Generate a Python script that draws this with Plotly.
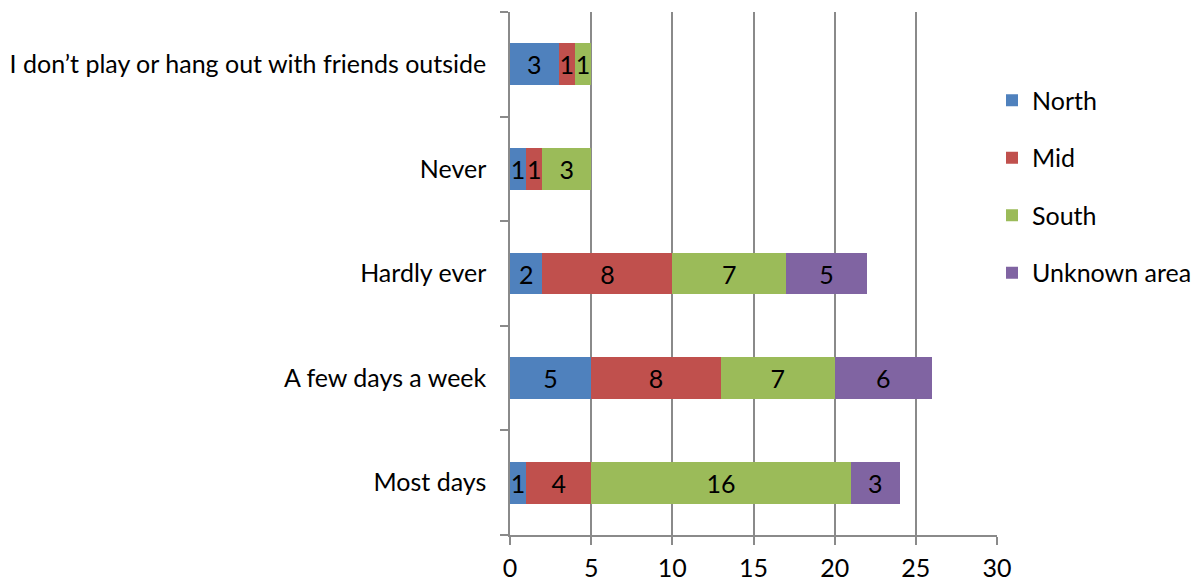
import plotly.graph_objects as go

categories = [
    "Most days",
    "A few days a week",
    "Hardly ever",
    "Never",
    "I don\u2019t play or hang out with friends outside",
]
north = [1, 5, 2, 1, 3]
mid = [4, 8, 8, 1, 1]
south = [16, 7, 7, 3, 1]
unknown = [3, 6, 5, 0, 0]

series = [
    ("North", north, "#4F81BD"),
    ("Mid", mid, "#C0504D"),
    ("South", south, "#9BBB59"),
    ("Unknown area", unknown, "#8064A2"),
]

FONT = "Lato"
FS = 25
GRID = "#8A8A8A"

W, H = 1193, 581
LEFT, RIGHT_EDGE = 510, 997
avail = W - LEFT
x_domain_end = (RIGHT_EDGE - LEFT) / avail

fig = go.Figure()
for name, vals, color in series:
    fig.add_trace(go.Bar(
        y=categories,
        x=vals,
        name=name,
        orientation="h",
        marker=dict(color=color, line=dict(width=0)),
        text=[str(v) if v else "" for v in vals],
        texttemplate="%{text}",
        textposition="inside",
        insidetextanchor="middle",
        textangle=0,
        constraintext="none",
        textfont=dict(family=FONT, size=FS, color="#000000"),
        legendgroup=name,
    ))

fig.update_layout(
    barmode="stack",
    bargap=0.6,
    width=W,
    height=H,
    margin=dict(l=LEFT, r=0, t=12, b=46, autoexpand=False),
    paper_bgcolor="white",
    plot_bgcolor="white",
    font=dict(family=FONT, size=FS, color="#000000"),
    uniformtext=dict(minsize=FS, mode="show"),
    showlegend=True,
    legend=dict(
        x=(992 - LEFT) / avail, xanchor="left",
        y=0.875, yanchor="top",
        traceorder="grouped",
        tracegroupgap=22,
        font=dict(family=FONT, size=FS, color="#000000"),
        itemwidth=30,
        bgcolor="rgba(0,0,0,0)",
    ),
    xaxis=dict(
        domain=[0, x_domain_end],
        range=[0, 30],
        dtick=5,
        tick0=0,
        showgrid=True,
        gridcolor=GRID,
        gridwidth=1.5,
        showline=True,
        linecolor=GRID,
        linewidth=1.5,
        ticks="outside",
        ticklen=8,
        tickcolor=GRID,
        tickwidth=1.5,
        zeroline=False,
        ticklabelstandoff=2,
        tickfont=dict(family=FONT, size=FS),
        fixedrange=True,
    ),
    yaxis=dict(
        type="category",
        categoryorder="array",
        categoryarray=categories,
        showline=True,
        linecolor=GRID,
        linewidth=1.5,
        ticks="outside",
        tickson="boundaries",
        ticklen=8,
        tickcolor=GRID,
        tickwidth=1.5,
        showgrid=False,
        ticklabelstandoff=17,
        tickfont=dict(family=FONT, size=FS),
        fixedrange=True,
    ),
)

fig.write_html("out.html")
